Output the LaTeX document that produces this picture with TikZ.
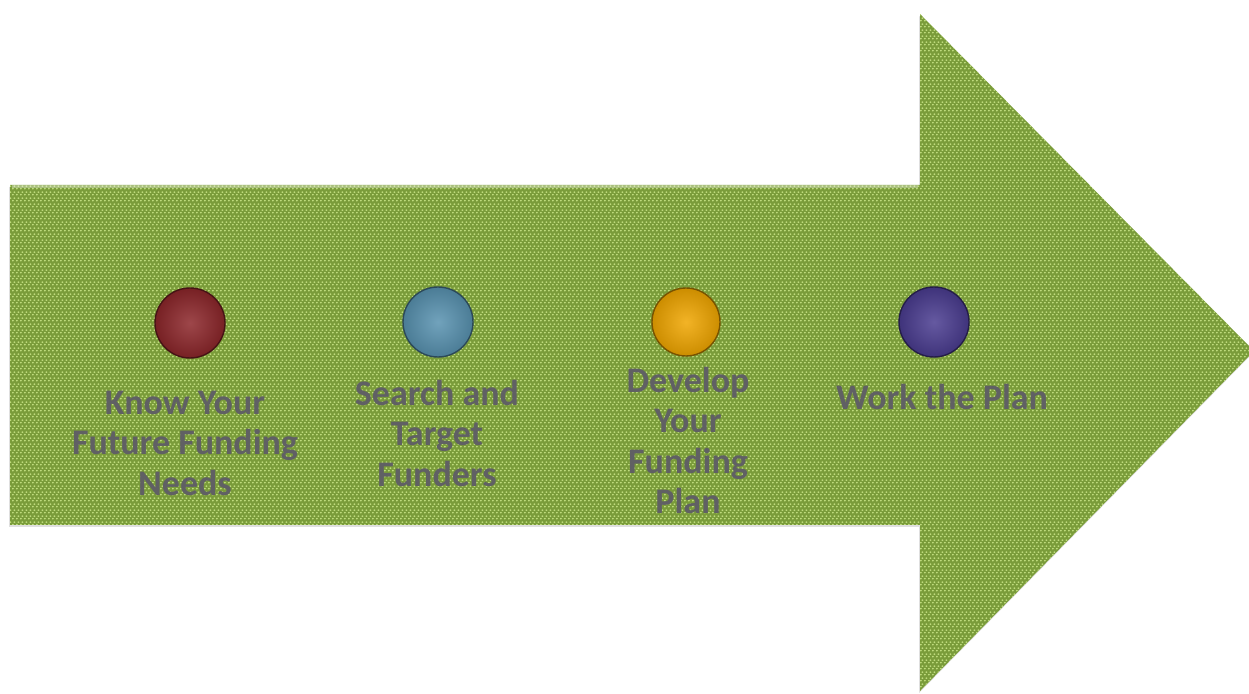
\documentclass[tikz,border=0pt]{standalone}
\usepackage{fontspec}
\setmainfont{Carlito}
\usetikzlibrary{positioning, patterns.meta, shadows}

\definecolor{arrowgreen}{RGB}{122,156,58}
\definecolor{dotgreen}{RGB}{198,226,132}
\definecolor{labelgray}{RGB}{96,96,100}
\definecolor{knowred}{RGB}{140,38,42}
\definecolor{searchblue}{RGB}{88,146,176}
\definecolor{developorange}{RGB}{240,166,0}
\definecolor{workpurple}{RGB}{74,60,144}

% staggered light dots of the arrow's texture
\tikzdeclarepattern{
  name=weavedots, type=uncolored,
  bottom left={(0pt,0pt)}, top right={(4pt,6pt)},
  tile size={(4pt,6pt)},
  code={
    \fill (1pt,1.5pt) ellipse [x radius=1.4pt, y radius=0.9pt];
    \fill (3pt,4.5pt) ellipse [x radius=1.4pt, y radius=0.9pt];
  }
}

\tikzset{
  stepdot/.style={circle, minimum size=70pt, inner sep=0pt,
    draw=#1!50!black, line width=1.4pt,
    inner color=#1!85!white, outer color=#1!85!black},
  steplabel/.style={anchor=north, inner sep=0pt, align=center,
    text=labelgray, font=\bfseries\fontsize{36}{40.5}\selectfont},
}

\begin{document}
\begin{tikzpicture}[x=1pt, y=1pt]
  \useasboundingbox (0,0) rectangle (1249,693);

  % arrow body
  \path[drop shadow={opacity=0.25, shadow xshift=-1pt, shadow yshift=-2pt},
        preaction={fill=arrowgreen},
        pattern=weavedots, pattern color=dotgreen]
    (10,168) -- (10,508) -- (920,508) -- (920,679) -- (1254,342)
    -- (920,2) -- (920,168) -- cycle;
  \draw[white, opacity=0.35, line width=3pt] (12,506) -- (918,506);

  % steps
  \node[stepdot=knowred] (know) at (190,370) {};
  \node[stepdot=searchblue] (search) at (438,371) {};
  \node[stepdot=developorange, minimum size=68pt] (develop) at (686,371) {};
  \node[stepdot=workpurple] (work) at (934,371) {};

  \node[steplabel] (knowtext) at (185,307.4) {\strut Know Your\\Future Funding\\Needs};
  \node[steplabel] (searchtext) at (437,316.4) {\strut Search and\\Target\\Funders};
  \node[steplabel] (developtext) at (688,329.4) {\strut Develop\\Your\\Funding\\Plan};
  \node[steplabel] (worktext) at (942,312.4) {\strut Work the Plan};
\end{tikzpicture}
\end{document}
